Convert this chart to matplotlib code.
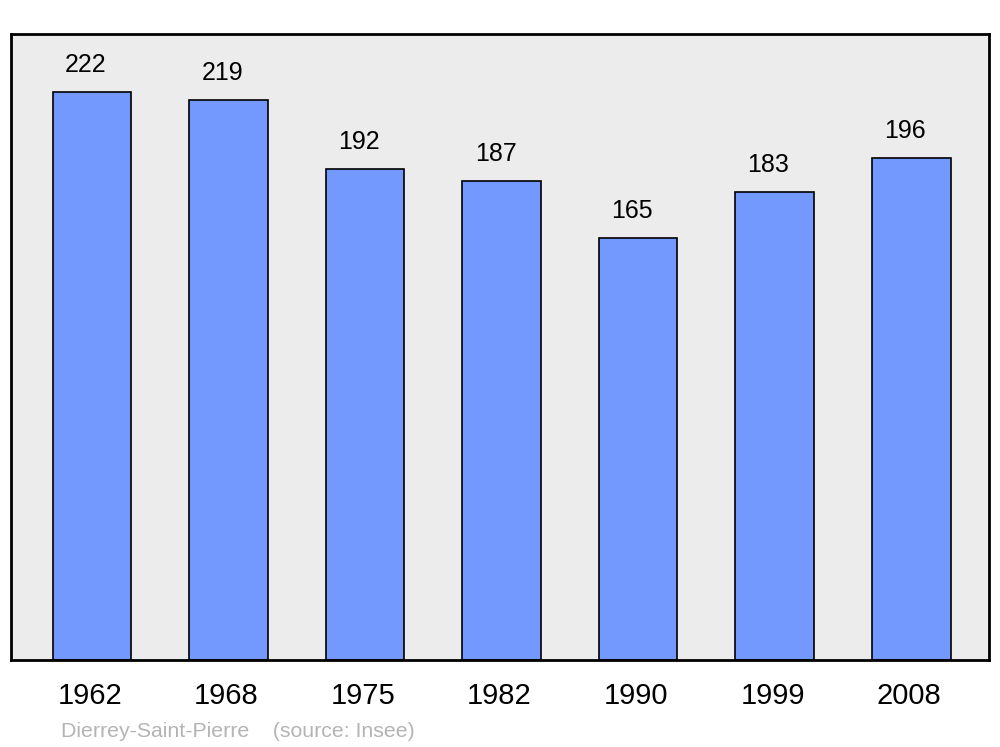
import matplotlib.pyplot as plt
import matplotlib.transforms as mtransforms

# population data
years = ['1962', '1968', '1975', '1982', '1990', '1999', '2008']
population = [222, 219, 192, 187, 165, 183, 196]

plt.rcParams['font.family'] = ['Liberation Sans', 'DejaVu Sans']

fig = plt.figure(figsize=(10, 7.47), dpi=100)
ax = fig.add_axes([0.011, 0.1165, 0.978, 0.838])
ax.set_facecolor('#ececec')

x = range(len(years))
ax.bar(x, population, width=0.578, color='#7399ff', edgecolor='black', linewidth=1.2, zorder=2)

for i, v in enumerate(population):
    ax.annotate(str(v), (i, v), xytext=(-6, 27), textcoords='offset pixels',
                ha='center', va='center', fontsize=18)

ax.set_xlim(-0.593, 6.571)
ax.set_ylim(0, 244.6)
ax.set_xticks(list(x))
ax.set_xticklabels(years, fontsize=21)
ax.tick_params(axis='x', length=0, pad=16)
# nudge year labels a little to the left
shift = mtransforms.ScaledTranslation(-2 / 100, 0, fig.dpi_scale_trans)
for lab in ax.get_xticklabels():
    lab.set_transform(lab.get_transform() + shift)
ax.set_yticks([])
for s in ax.spines.values():
    s.set_linewidth(2)

fig.text(0.061, 0.013, 'Dierrey-Saint-Pierre    (source: Insee)', color='#b4b4b4', fontsize=15.3)

fig.savefig('out.png')
